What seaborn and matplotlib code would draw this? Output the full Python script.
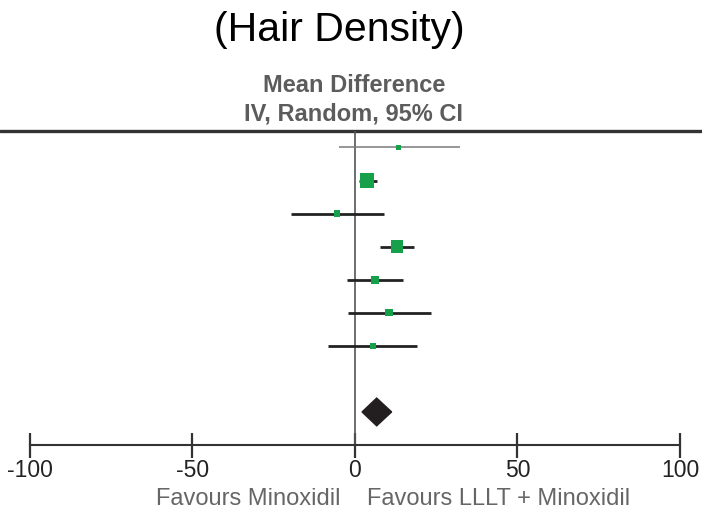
import matplotlib
matplotlib.use('Agg')
import matplotlib.pyplot as plt
import matplotlib.transforms as mtransforms
import seaborn as sns
import pandas as pd

# ── data ────────────────────────────────────────────────────────────────────
rows = [1, 2, 3, 4, 5, 6, 7]
est = [13.5, 3.7, -5.5, 12.9, 6.2, 10.5, 5.5]
ci_lo = [-4.9, 1.2, -19.7, 7.7, -2.5, -2.2, -8.3]
ci_hi = [32.3, 6.8, 8.9, 18.2, 14.8, 23.4, 19.1]
weight = [4.5, 35.6, 6.5, 26.2, 11.6, 8.9, 6.5]

pooled_row = 9
pooled_est, pooled_lo, pooled_hi = 6.7, 2.2, 11.3

xticks = [-100, -50, 0, 50, 100]

df = pd.DataFrame({'row': rows, 'est': est, 'lo': ci_lo, 'hi': ci_hi, 'w': weight})

sns.set_style('white')
plt.rcParams['font.family'] = ['Liberation Sans', 'DejaVu Sans']

GREEN = '#17a04a'

fig = plt.figure(figsize=(7.02, 5.13), dpi=100)
ax = fig.add_axes([0, 68 / 513, 1, 445 / 513])

# CI whiskers (first study drawn lighter, as in the source)
line_cols = ['#7a7a7a'] + ['#222222'] * (len(df) - 1)
line_w = [1.1] + [2.0] * (len(df) - 1)
ax.hlines(df['row'], df['lo'], df['hi'], colors=line_cols, linewidths=line_w, zorder=2)

# study squares, area ~ weight
sns.scatterplot(data=df, x='est', y='row', size='w', sizes=(0, 110),
                size_norm=(0, max(weight)), marker='s', color=GREEN,
                edgecolor=GREEN, linewidth=0, legend=False, ax=ax, zorder=3)

# pooled diamond
h = 0.42
ax.fill([pooled_lo, pooled_est, pooled_hi, pooled_est],
        [pooled_row, pooled_row - h, pooled_row, pooled_row + h],
        color='#231f20', zorder=3)

# reference lines
ax.axhline(0.5, color='#333333', lw=2.4, zorder=1)
ax.vlines(0, 0.5, 10, color='#555555', lw=1.2, zorder=1)

ax.set_xlim(-109.2, 106.8)
ax.set_ylim(10, -3.46)
ax.set_xlabel('')
ax.set_ylabel('')
ax.set_yticks([])
ax.set_xticks(xticks)
ax.set_xticklabels([str(t) for t in xticks])
for s in ['top', 'left', 'right']:
    ax.spines[s].set_visible(False)
ax.spines['bottom'].set_bounds(min(xticks), max(xticks))
ax.spines['bottom'].set_color('#333333')
ax.spines['bottom'].set_linewidth(1.5)
ax.tick_params(axis='x', bottom=True, direction='inout', length=18, width=1.6,
               color='#333333', labelsize=16.5, labelcolor='#222222', pad=1)
ax.set_facecolor('none')

# titles
fig.text(0.4836, 1 - 30 / 513, '(Hair Density)', fontsize=29.5, ha='center', va='center',
         color='black')
fig.text(0.504, 1 - 92 / 513, 'Mean Difference', fontsize=17, fontweight='bold',
         ha='center', va='baseline', color='#5c5c5c')
fig.text(0.504, 1 - 120 / 513, 'IV, Random, 95% CI', fontsize=17, fontweight='bold',
         ha='center', va='baseline', color='#5c5c5c')

trans = mtransforms.blended_transform_factory(ax.transData, fig.transFigure)
ax.text(-4.3, 1 - 505 / 513, 'Favours Minoxidil', transform=trans, fontsize=17,
        ha='right', va='baseline', color='#666666')
ax.text(3.8, 1 - 505 / 513, 'Favours LLLT + Minoxidil', transform=trans, fontsize=17,
        ha='left', va='baseline', color='#666666')

fig.savefig('out.png', dpi=100)
